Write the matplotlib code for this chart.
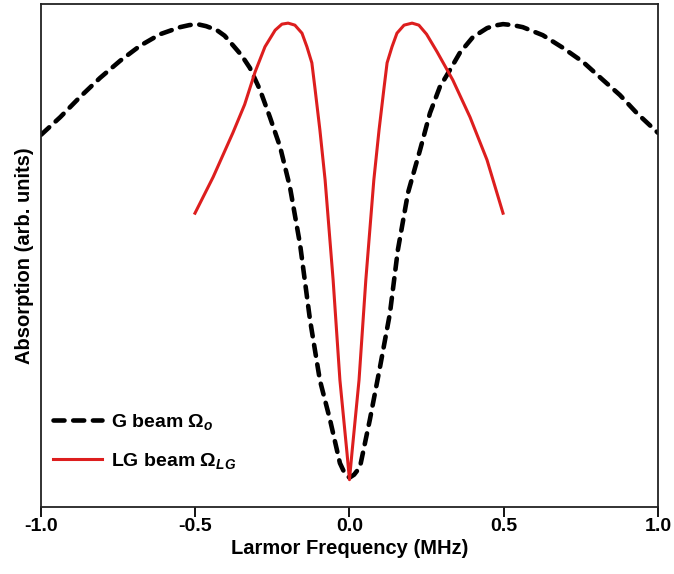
import matplotlib
matplotlib.use("Agg")
from matplotlib import pyplot as plt

plt.rcParams['font.family'] = ['Liberation Sans', 'DejaVu Sans']
plt.rcParams['font.weight'] = 'bold'
plt.rcParams['mathtext.fontset'] = 'custom'
plt.rcParams['mathtext.rm'] = 'Liberation Sans:bold'
plt.rcParams['mathtext.it'] = 'Liberation Sans:bold:italic'
plt.rcParams['mathtext.bf'] = 'Liberation Sans:bold'

# Gaussian beam absorption profile
g_freq = [-1.000, -0.938, -0.874, -0.809, -0.744, -0.679, -0.614, -0.549, -0.520,
          -0.494, -0.465, -0.430, -0.405, -0.378, -0.350, -0.323, -0.290, -0.258,
          -0.225, -0.193, -0.160, -0.128, -0.096, -0.063, -0.031, -0.015, 0.000,
          0.015, 0.034, 0.066, 0.099, 0.131, 0.157, 0.190, 0.229, 0.261, 0.293,
          0.326, 0.358, 0.400, 0.446, 0.470, 0.498, 0.530, 0.562, 0.627, 0.692,
          0.757, 0.822, 0.877, 0.932, 1.000]
g_abs = [0.740, 0.775, 0.815, 0.853, 0.887, 0.917, 0.940, 0.954, 0.958,
         0.960, 0.956, 0.948, 0.937, 0.918, 0.898, 0.873, 0.829, 0.775,
         0.716, 0.636, 0.521, 0.372, 0.252, 0.173, 0.087, 0.066, 0.058,
         0.064, 0.079, 0.173, 0.278, 0.384, 0.511, 0.625, 0.710, 0.783, 0.835,
         0.869, 0.903, 0.934, 0.952, 0.957, 0.960, 0.958, 0.954, 0.938, 0.913,
         0.885, 0.849, 0.819, 0.783, 0.744]

# Laguerre-Gaussian beam absorption profile
lg_freq = [-0.501, -0.442, -0.378, -0.340, -0.306, -0.274, -0.241, -0.219, -0.199,
           -0.177, -0.154, -0.138, -0.122, -0.112, -0.096, -0.079, -0.053, -0.031,
           -0.008, 0.000, 0.008, 0.031, 0.053, 0.079, 0.096, 0.112, 0.122, 0.138,
           0.154, 0.177, 0.203, 0.225, 0.250, 0.284, 0.335, 0.391, 0.446, 0.498]
lg_abs = [0.584, 0.656, 0.744, 0.800, 0.865, 0.915, 0.948, 0.960, 0.962,
          0.958, 0.942, 0.915, 0.883, 0.833, 0.750, 0.650, 0.451, 0.252,
          0.107, 0.054, 0.107, 0.252, 0.451, 0.650, 0.750, 0.833, 0.883, 0.915,
          0.942, 0.958, 0.962, 0.958, 0.940, 0.905, 0.849, 0.775, 0.690, 0.584]

fig = plt.figure(figsize=(6.74, 5.74), dpi=100)
ax = fig.add_axes([0.061, 0.117, 0.915, 0.876])

ax.plot(g_freq, g_abs, color='black', lw=3.3, linestyle=(0, (2.4, 1.9)),
        dash_capstyle='round', label=r'G beam $\Omega_{o}$')
ax.plot(lg_freq, lg_abs, color='#dd1e1e', lw=2.2, label=r'LG beam $\Omega_{LG}$')

ax.set_xlim(-1.0, 1.0)
ax.set_ylim(0, 1)
ax.set_xticks([-1.0, -0.5, 0.0, 0.5, 1.0])
ax.set_xticklabels(['-1.0', '-0.5', '0.0', '0.5', '1.0'])
ax.set_yticks([])
ax.tick_params(axis='x', direction='out', length=7, width=1.3, labelsize=14, pad=1)
for s in ax.spines.values():
    s.set_linewidth(1.3)
    s.set_color('#222222')

ax.set_xlabel('Larmor Frequency (MHz)', fontsize=14.5, fontweight='bold', labelpad=3)
ax.set_ylabel('Absorption (arb. units)', fontsize=14.5, fontweight='bold', labelpad=5)

ax.legend(loc='lower left', bbox_to_anchor=(-0.009, 0.037), frameon=False,
          fontsize=14, handlelength=2.5, handletextpad=0.5, labelspacing=0.95)

plt.savefig('out.png', dpi=100)
plt.close()
